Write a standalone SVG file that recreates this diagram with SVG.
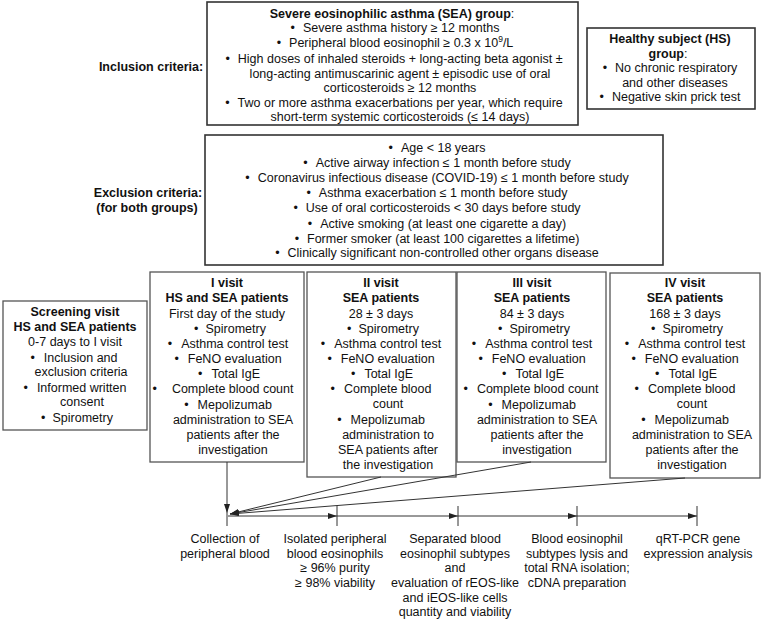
<svg xmlns="http://www.w3.org/2000/svg" width="764" height="622" viewBox="0 0 764 622">
<defs>
<style>
.t{font-family:"Liberation Sans",Arial,sans-serif;font-size:12.5px;fill:#111;text-anchor:middle}
.b{font-weight:bold}
.box{fill:#fff;stroke:#333;stroke-width:1.6}
.vbox{fill:#fff;stroke:#555;stroke-width:1.3}
.ln{stroke:#333;stroke-width:1;fill:none}
</style>
<marker id="ah" viewBox="0 0 9 6" refX="9" refY="3" markerWidth="9" markerHeight="6" markerUnits="userSpaceOnUse" orient="auto">
<path d="M0,0 L9,3 L0,6 z" fill="#222"/>
</marker>
</defs>
<rect width="764" height="622" fill="#fff"/>

<g id="label-inclusion">
<text class="t b" x="151" y="71">Inclusion criteria:</text>
</g>

<g id="sea-group">
<rect class="box" x="207" y="2" width="371" height="123"/>
<text class="t" x="392" y="18"><tspan class="b">Severe eosinophilic asthma (SEA) group</tspan>:</text>
<text class="t" x="395" y="32">•<tspan dx="8">Severe asthma history ≥ 12 months</tspan></text>
<text class="t" x="395" y="47">•<tspan dx="8">Peripheral blood eosinophil ≥ 0.3 x 10</tspan><tspan font-size="8.5" dy="-5">9</tspan><tspan dy="5">/L</tspan></text>
<text class="t" x="394" y="63">•<tspan dx="8">High doses of inhaled steroids + long-acting beta agonist ±</tspan></text>
<text class="t" x="400" y="77.5">long-acting antimuscarinic agent ± episodic use of oral</text>
<text class="t" x="400" y="92">corticosteroids ≥ 12 months</text>
<text class="t" x="394" y="106.5">•<tspan dx="8">Two or more asthma exacerbations per year, which require</tspan></text>
<text class="t" x="400" y="121">short-term systemic corticosteroids (≤ 14 days)</text>
</g>

<g id="hs-group">
<rect class="box" x="587" y="28" width="168" height="81"/>
<text class="t b" x="670" y="43">Healthy subject (HS)</text>
<text class="t" x="668" y="57.5"><tspan class="b">group</tspan>:</text>
<text class="t" x="670" y="72">•<tspan dx="8">No chronic respiratory</tspan></text>
<text class="t" x="675" y="86.5">and other diseases</text>
<text class="t" x="670" y="101">•<tspan dx="8">Negative skin prick test</tspan></text>
</g>

<g id="label-exclusion">
<text class="t b" x="148" y="197">Exclusion criteria:</text>
<text class="t b" x="147" y="211.5">(for both groups)</text>
</g>

<g id="exclusion">
<rect class="box" x="205" y="135" width="458" height="130"/>
<text class="t" x="437" y="152">•<tspan dx="8">Age &lt; 18 years</tspan></text>
<text class="t" x="437" y="167">•<tspan dx="8">Active airway infection ≤ 1 month before study</tspan></text>
<text class="t" x="437" y="182">•<tspan dx="8">Coronavirus infectious disease (COVID-19) ≤ 1 month before study</tspan></text>
<text class="t" x="437" y="197">•<tspan dx="8">Asthma exacerbation ≤ 1 month before study</tspan></text>
<text class="t" x="437" y="212">•<tspan dx="8">Use of oral corticosteroids &lt; 30 days before study</tspan></text>
<text class="t" x="437" y="227.5">•<tspan dx="8">Active smoking (at least one cigarette a day)</tspan></text>
<text class="t" x="437" y="242.5">•<tspan dx="8">Former smoker (at least 100 cigarettes a lifetime)</tspan></text>
<text class="t" x="437" y="257">•<tspan dx="8">Clinically significant non-controlled other organs disease</tspan></text>
</g>

<g id="screening">
<rect class="vbox" x="3" y="301" width="144" height="129"/>
<text class="t b" x="75" y="316">Screening visit</text>
<text class="t b" x="75" y="331">HS and SEA patients</text>
<text class="t" x="75" y="346">0-7 days to I visit</text>
<text class="t" x="74" y="362">•<tspan dx="9">Inclusion and</tspan></text>
<text class="t" x="81" y="376">exclusion criteria</text>
<text class="t" x="75" y="392">•<tspan dx="9">Informed written</tspan></text>
<text class="t" x="82" y="406">consent</text>
<text class="t" x="77" y="422">•<tspan dx="7">Spirometry</tspan></text>
</g>

<g id="visit1">
<rect class="vbox" x="150" y="272" width="154" height="190"/>
<text class="t b" x="227" y="287">I visit</text>
<text class="t b" x="227" y="302">HS and SEA patients</text>
<text class="t" x="227" y="318">First day of the study</text>
<text class="t" x="230" y="333">•<tspan dx="7">Spirometry</tspan></text>
<text class="t" x="228" y="348">•<tspan dx="9">Asthma control test</tspan></text>
<text class="t" x="228" y="363">•<tspan dx="9">FeNO evaluation</tspan></text>
<text class="t" x="229" y="378">•<tspan dx="9">Total IgE</tspan></text>
<text class="t" x="223" y="393">•<tspan dx="15">Complete blood count</tspan></text>
<text class="t" x="228" y="409">•<tspan dx="9">Mepolizumab</tspan></text>
<text class="t" x="233" y="424">administration to SEA</text>
<text class="t" x="233" y="439">patients after the</text>
<text class="t" x="233" y="454">investigation</text>
</g>

<g id="visit2">
<rect class="vbox" x="307" y="272" width="149" height="205"/>
<text class="t b" x="381" y="287">II visit</text>
<text class="t b" x="381" y="302">SEA patients</text>
<text class="t" x="381" y="318">28 ± 3 days</text>
<text class="t" x="383" y="333">•<tspan dx="7">Spirometry</tspan></text>
<text class="t" x="381" y="348">•<tspan dx="9">Asthma control test</tspan></text>
<text class="t" x="381" y="363">•<tspan dx="9">FeNO evaluation</tspan></text>
<text class="t" x="382" y="378">•<tspan dx="9">Total IgE</tspan></text>
<text class="t" x="381" y="393">•<tspan dx="9">Complete blood</tspan></text>
<text class="t" x="388" y="408">count</text>
<text class="t" x="381" y="424">•<tspan dx="9">Mepolizumab</tspan></text>
<text class="t" x="388" y="439">administration to</text>
<text class="t" x="388" y="454">SEA patients after</text>
<text class="t" x="388" y="469">the investigation</text>
</g>

<g id="visit3">
<rect class="vbox" x="457" y="272" width="149" height="190"/>
<text class="t b" x="532" y="287">III visit</text>
<text class="t b" x="532" y="302">SEA patients</text>
<text class="t" x="532" y="318">84 ± 3 days</text>
<text class="t" x="534" y="333">•<tspan dx="7">Spirometry</tspan></text>
<text class="t" x="532" y="348">•<tspan dx="9">Asthma control test</tspan></text>
<text class="t" x="532" y="363">•<tspan dx="9">FeNO evaluation</tspan></text>
<text class="t" x="533" y="378">•<tspan dx="9">Total IgE</tspan></text>
<text class="t" x="531" y="393">•<tspan dx="9">Complete blood count</tspan></text>
<text class="t" x="532" y="409">•<tspan dx="9">Mepolizumab</tspan></text>
<text class="t" x="537" y="424">administration to SEA</text>
<text class="t" x="537" y="439">patients after the</text>
<text class="t" x="537" y="454">investigation</text>
</g>

<g id="visit4">
<rect class="vbox" x="610" y="273" width="150" height="205"/>
<text class="t b" x="685" y="287">IV visit</text>
<text class="t b" x="685" y="302">SEA patients</text>
<text class="t" x="685" y="318">168 ± 3 days</text>
<text class="t" x="687" y="333">•<tspan dx="7">Spirometry</tspan></text>
<text class="t" x="685" y="348">•<tspan dx="9">Asthma control test</tspan></text>
<text class="t" x="685" y="363">•<tspan dx="9">FeNO evaluation</tspan></text>
<text class="t" x="686" y="378">•<tspan dx="9">Total IgE</tspan></text>
<text class="t" x="685" y="393">•<tspan dx="9">Complete blood</tspan></text>
<text class="t" x="692" y="408">count</text>
<text class="t" x="685" y="424">•<tspan dx="9">Mepolizumab</tspan></text>
<text class="t" x="692" y="439">administration to SEA</text>
<text class="t" x="692" y="454">patients after the</text>
<text class="t" x="692" y="469">investigation</text>
</g>

<g id="connectors">
<path class="ln" d="M227,462 L227,513" marker-end="url(#ah)"/>
<path class="ln" d="M227,513 L227,526"/>
<path class="ln" d="M381,477 L230,514" marker-end="url(#ah)"/>
<path class="ln" d="M531,462 L230,514" marker-end="url(#ah)"/>
<path class="ln" d="M685,478 L230,514" marker-end="url(#ah)"/>
<path class="ln" d="M228,516 L337,516" marker-end="url(#ah)"/>
<path class="ln" d="M337,516 L458,516" marker-end="url(#ah)"/>
<path class="ln" d="M458,516 L577,516" marker-end="url(#ah)"/>
<path class="ln" d="M577,516 L697,516" marker-end="url(#ah)"/>
<path class="ln" d="M337,506 L337,526 M458,506 L458,526 M577,506 L577,526 M697,506 L697,526"/>
</g>

<g id="step1">
<text class="t" x="225" y="543">Collection of</text>
<text class="t" x="225" y="557.5">peripheral blood</text>
</g>
<g id="step2">
<text class="t" x="335" y="543">Isolated peripheral</text>
<text class="t" x="335" y="557.5">blood eosinophils</text>
<text class="t" x="335" y="572">≥ 96% purity</text>
<text class="t" x="335" y="587">≥ 98% viability</text>
</g>
<g id="step3">
<text class="t" x="455" y="543">Separated blood</text>
<text class="t" x="455" y="557.5">eosinophil subtypes</text>
<text class="t" x="455" y="572">and</text>
<text class="t" x="455" y="587">evaluation of rEOS-like</text>
<text class="t" x="455" y="602">and iEOS-like cells</text>
<text class="t" x="455" y="616">quantity and viability</text>
</g>
<g id="step4">
<text class="t" x="577" y="543">Blood eosinophil</text>
<text class="t" x="577" y="557.5">subtypes lysis and</text>
<text class="t" x="577" y="572">total RNA isolation;</text>
<text class="t" x="577" y="587">cDNA preparation</text>
</g>
<g id="step5">
<text class="t" x="698" y="543">qRT-PCR gene</text>
<text class="t" x="698" y="557.5">expression analysis</text>
</g>
</svg>
